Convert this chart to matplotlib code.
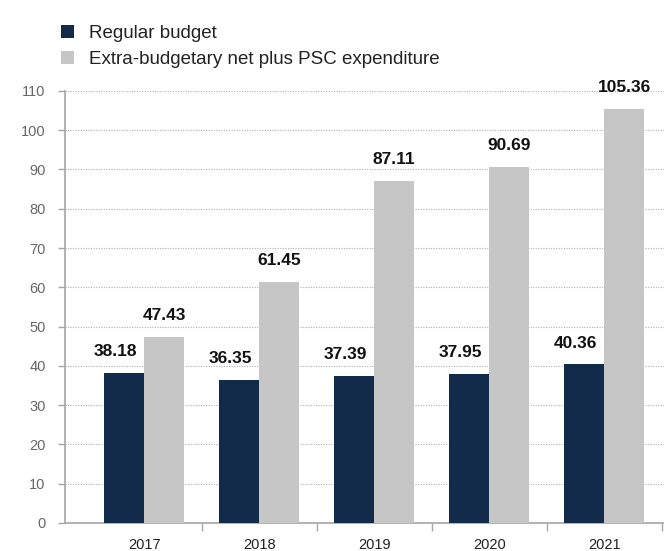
import numpy as np
import matplotlib
matplotlib.use('Agg')
import matplotlib.pyplot as plt

plt.rcParams['font.family'] = ['Liberation Sans', 'DejaVu Sans']

# Data
years = ['2017', '2018', '2019', '2020', '2021']
regular_budget = [38.18, 36.35, 37.39, 37.95, 40.36]
extra_budgetary = [47.43, 61.45, 87.11, 90.69, 105.36]
series_names = ['Regular budget', 'Extra-budgetary net plus PSC expenditure']

dark = '#122b4b'
grey = '#c6c6c6'
axis_grey = '#a6a6a6'

fig = plt.figure(figsize=(6.64, 5.51), dpi=100)
ax = fig.add_axes([0.098, 0.051, 0.902, 0.784])

x = np.arange(len(years))
w = 0.35
b1 = ax.bar(x - w / 2, regular_budget, w, color=dark, label=series_names[0], zorder=3)
b2 = ax.bar(x + w / 2, extra_budgetary, w, color=grey, label=series_names[1], zorder=3)

# value labels
for xi, v in zip(x - w / 2, regular_budget):
    ax.annotate(f'{v:.2f}', (xi, v), xytext=(-6, 10), textcoords='offset points',
                ha='center', va='bottom', fontsize=12.5, fontweight='bold', color='#111111')
for xi, v in zip(x + w / 2, extra_budgetary):
    ax.annotate(f'{v:.2f}', (xi, v), xytext=(0, 10), textcoords='offset points',
                ha='center', va='bottom', fontsize=12.5, fontweight='bold', color='#111111')

ax.set_xlim(-0.687, 4.52)
ax.set_ylim(0, 110)
ax.set_yticks(range(0, 111, 10))
ax.tick_params(axis='y', labelsize=10.5, labelcolor='#666666', color=axis_grey,
               length=5, width=1, pad=9)

# year labels at group centres, tick marks between groups
ax.set_xticks(x)
ax.set_xticklabels(years, fontsize=10.5, color='#222222')
ax.tick_params(axis='x', length=0, pad=11)
ax.set_xticks(np.arange(0.5, 4.6, 1), minor=True)
ax.tick_params(axis='x', which='minor', length=6, color=axis_grey, width=1)

ax.grid(axis='y', linestyle=(0, (1, 1.3)), color='#b0b0b0', linewidth=0.8, zorder=0)
for s in ['top', 'right']:
    ax.spines[s].set_visible(False)
for s in ['left', 'bottom']:
    ax.spines[s].set_color(axis_grey)
    ax.spines[s].set_linewidth(1.2)

fig.legend(handles=[b1, b2], loc='upper left', bbox_to_anchor=(0.067, 0.985),
           frameon=False, fontsize=13.5, handlelength=0.7, handleheight=0.7,
           handletextpad=0.8, labelspacing=0.45, labelcolor='#222222')

fig.savefig('out.png', dpi=100)
